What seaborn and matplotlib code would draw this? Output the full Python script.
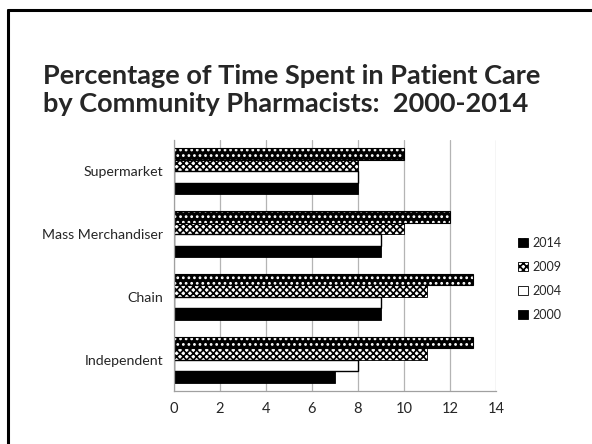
import pandas as pd
import matplotlib.pyplot as plt
import matplotlib.patches as mpatches
import seaborn as sns
import numpy as np

# data
store_types = ["Supermarket", "Mass Merchandiser", "Chain", "Independent"]
years = ["2014", "2009", "2004", "2000"]
pct_2014 = [10, 12, 13, 13]
pct_2009 = [8, 10, 11, 11]
pct_2004 = [8, 9, 9, 8]
pct_2000 = [8, 9, 9, 7]

rows = []
for yr, vals in zip(years, [pct_2014, pct_2009, pct_2004, pct_2000]):
    for st, v in zip(store_types, vals):
        rows.append({"type": st, "year": yr, "pct": v})
df = pd.DataFrame(rows)

sns.set_style("white")
plt.rcParams['font.family'] = ['Lato', 'DejaVu Sans']
plt.rcParams['hatch.linewidth'] = 1.2

fig = plt.figure(figsize=(5.92, 4.44), dpi=100)
ax = fig.add_axes([174/592, 1 - 391/444, (496 - 174)/592, (391 - 140)/444])

sns.barplot(data=df, x="pct", y="type", hue="year", order=store_types,
            hue_order=years, orient="h", width=0.73, ax=ax,
            palette=["black", "white", "white", "black"], legend=False,
            saturation=1)

# bar fills: dotted, checkered, empty, solid
styles = [
    dict(fc="black", ec="white", hatch="...", lw=0),
    dict(fc="white", ec="black", hatch="xxxxx", lw=0.6),
    dict(fc="white", ec="black", hatch="", lw=1.0),
    dict(fc="black", ec="black", hatch="", lw=0.6),
]
handles = []
for cont, st, yr in zip(ax.containers, styles, years):
    for p in cont.patches:
        p.set_facecolor(st["fc"])
        p.set_edgecolor(st["ec"])
        p.set_hatch(st["hatch"])
        p.set_linewidth(st["lw"])
    handles.append(mpatches.Patch(facecolor=st["fc"], edgecolor=st["ec"] if st["lw"] else "black",
                                  hatch=st["hatch"], lw=0.6, label=yr))
# dotted bars get a thin black outline
for p in ax.containers[0].patches:
    x0, y0 = p.get_xy()
    ax.add_patch(mpatches.Rectangle((x0, y0), p.get_width(), p.get_height(),
                                    fill=False, ec="black", lw=0.8))

ax.set_xlim(0, 14)
ax.set_xticks(np.arange(0, 15, 2))
ax.set_ylim(3.5, -0.5)
ax.set_yticks(range(4))
ax.set_yticks(np.arange(-0.5, 4, 1), minor=True)
ax.tick_params(axis="y", which="major", length=0, labelsize=10.2, pad=8)
ax.tick_params(axis="y", which="minor", length=4, color="#a0a0a0", direction="out")
ax.tick_params(axis="x", length=0, labelsize=10.5, pad=8)
ax.xaxis.grid(True, color="#b4b4b4", lw=0.9)
ax.set_axisbelow(True)
ax.set_xlabel("")
ax.set_ylabel("")
for side in ["top", "right"]:
    ax.spines[side].set_visible(False)
for side in ["left", "bottom"]:
    ax.spines[side].set_color("#a0a0a0")
    ax.spines[side].set_linewidth(0.9)

fig.legend(handles=handles, loc="center left", bbox_to_anchor=(507/592, 1 - 279/444),
           frameon=False, handlelength=0.75, handleheight=0.75, handletextpad=0.4,
           labelspacing=0.95, fontsize=9)

fig.text(43/592, 1 - 112/444,
         "Percentage of Time Spent in Patient Care\nby Community Pharmacists:  2000-2014",
         fontsize=19.5, fontweight="bold", ha="left", va="baseline", linespacing=1.22)

# slide frame
fig.add_artist(plt.Line2D([8/592, 8/592], [0, 1 - 10/444], color="black", lw=2.2,
                          transform=fig.transFigure))
fig.add_artist(plt.Line2D([8/592, 1], [1 - 10/444, 1 - 10/444], color="black", lw=2.2,
                          transform=fig.transFigure))

fig.savefig("out.png", dpi=100)
